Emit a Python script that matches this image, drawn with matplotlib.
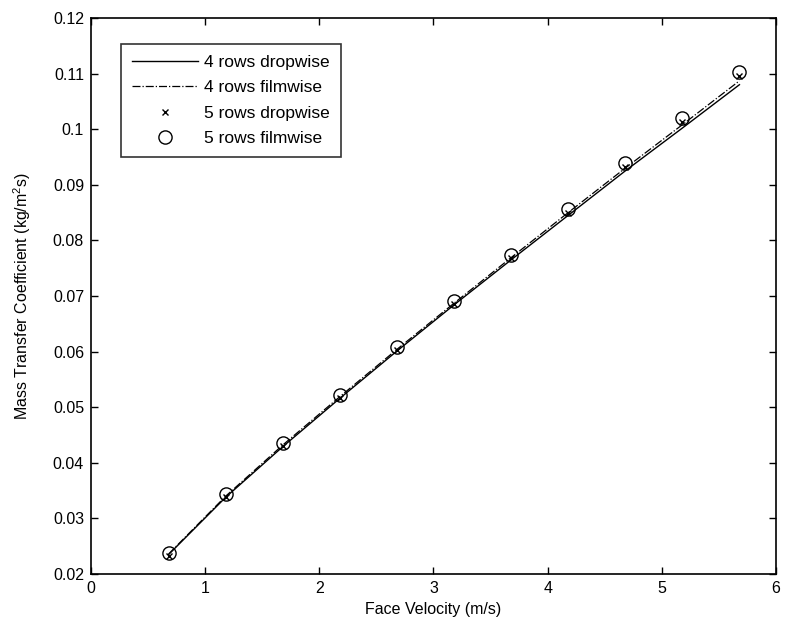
import matplotlib
matplotlib.use("Agg")
import matplotlib.pyplot as plt

plt.rcParams['font.family'] = ['Liberation Sans', 'DejaVu Sans']
plt.rcParams['mathtext.fontset'] = 'custom'
plt.rcParams['mathtext.rm'] = 'Liberation Sans'

# face velocity (m/s)
velocity = [0.68, 1.18, 1.68, 2.18, 2.68, 3.18, 3.68, 4.18, 4.68, 5.18, 5.68]

# mass transfer coefficient (kg/m^2 s)
rows4_dropwise = [0.0235, 0.0338, 0.0429, 0.0516, 0.0601, 0.0684, 0.0765, 0.0845, 0.0925, 0.1002, 0.1080]
rows4_filmwise = [0.0236, 0.0340, 0.0432, 0.0519, 0.0604, 0.0687, 0.0769, 0.0850, 0.0930, 0.1008, 0.1087]
rows5_dropwise = [0.0233, 0.0339, 0.0431, 0.0517, 0.0603, 0.0686, 0.0768, 0.0850, 0.0932, 0.1013, 0.1095]
rows5_filmwise = [0.0238, 0.0344, 0.0436, 0.0522, 0.0608, 0.0691, 0.0774, 0.0856, 0.0939, 0.1020, 0.1103]

fig = plt.figure(figsize=(7.85, 6.33), dpi=100)
ax = fig.add_axes([0.1159, 0.0932, 0.8726, 0.8784])

ax.plot(velocity, rows4_dropwise, 'k-', lw=1.0, label='4 rows dropwise')
ax.plot(velocity, rows4_filmwise, 'k-.', lw=0.9, label='4 rows filmwise')
ax.plot(velocity, rows5_dropwise, 'kx', ms=5, mew=1.0, linestyle='none', label='5 rows dropwise')
ax.plot(velocity, rows5_filmwise, 'ko', ms=9.5, mfc='none', mew=1.0, linestyle='none', label='5 rows filmwise')

ax.set_xlim(0, 6)
ax.set_ylim(0.02, 0.12)
ax.set_xticks(range(0, 7))
ax.set_yticks([0.02, 0.03, 0.04, 0.05, 0.06, 0.07, 0.08, 0.09, 0.1, 0.11, 0.12])
ax.set_yticklabels(['0.02', '0.03', '0.04', '0.05', '0.06', '0.07', '0.08', '0.09', '0.1', '0.11', '0.12'])
ax.tick_params(direction='in', top=True, right=True, length=5, width=1, labelsize=11.5, pad=5)
for s in ax.spines.values():
    s.set_linewidth(1.2)

ax.set_xlabel('Face Velocity (m/s)', fontsize=11.5, labelpad=4)
ax.set_ylabel('Mass Transfer Coefficient (kg/m$^2$s)', fontsize=11.5, labelpad=14)

leg = ax.legend(loc='upper left', bbox_to_anchor=(0.044, 0.953), borderaxespad=0,
                fontsize=12.5, frameon=True, fancybox=False, edgecolor='black',
                handlelength=3.8, handletextpad=0.4, borderpad=0.6, labelspacing=0.6)
leg.get_frame().set_linewidth(1.2)

fig.savefig('out.png', dpi=100, facecolor='white')
